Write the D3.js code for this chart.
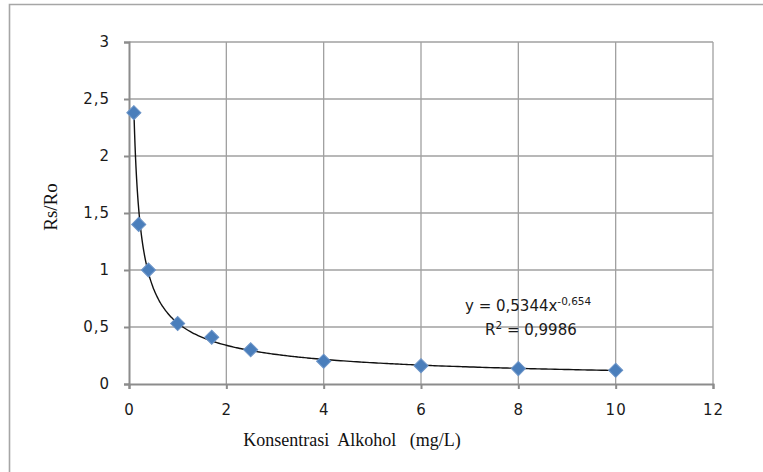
<!DOCTYPE html>
<html><head><meta charset="utf-8">
<script src="https://cdn.jsdelivr.net/npm/d3@7"></script>
<style>
html,body{margin:0;padding:0;background:#fff;}
svg{display:block;}
</style></head>
<body>
<svg id="chart" width="763" height="472"></svg>
<script>
// Data
const concentration = [0.1, 0.2, 0.4, 1.0, 1.7, 2.5, 4, 6, 8, 10];
const rsRo = [2.38, 1.40, 1.00, 0.53, 0.41, 0.30, 0.20, 0.16, 0.135, 0.12];
const xTicks = [0, 2, 4, 6, 8, 10, 12];
const yTicks = [0, 0.5, 1, 1.5, 2, 2.5, 3];
// Power trendline label from the chart: y = a * x^b
const trendA = 0.5344;
const trendB = -0.654;
const eqText = "y = 0,5344x";
const eqExp = "-0,654";
const r2Value = "0,9986";
const xTitle = "Konsentrasi  Alkohol   (mg/L)";
const yTitle = "Rs/Ro";

(function () {
const svg = d3.select("#chart");
const pLeft = 129, pRight = 713, pTop = 42, pBottom = 384;
const x = d3.scaleLinear().domain([0, 12]).range([pLeft, pRight]);
const y = d3.scaleLinear().domain([0, 3]).range([pBottom, pTop]);
const fmt = d => String(d).replace(".", ",");

// outer frame
svg.append("path").attr("d", `M9.5,480 V4.5 H770`).attr("fill", "none")
  .attr("stroke", "#a6a6a6").attr("stroke-width", 1.6);

// gridlines
const grid = svg.append("g");
grid.selectAll(".gx").data(xTicks.slice(1)).join("line")
  .attr("x1", d => x(d)).attr("x2", d => x(d)).attr("y1", pTop).attr("y2", pBottom)
  .attr("stroke", "#a0a0a0").attr("stroke-width", 1.3);
grid.selectAll(".gy").data(yTicks.slice(1)).join("line")
  .attr("x1", pLeft).attr("x2", pRight).attr("y1", d => y(d)).attr("y2", d => y(d))
  .attr("stroke", "#a0a0a0").attr("stroke-width", 1.3);

// axes
const axFont = "'DejaVu Sans', Verdana, sans-serif";
const xAxis = svg.append("g").attr("transform", `translate(0,${pBottom})`)
  .call(d3.axisBottom(x).tickValues(xTicks).tickFormat(fmt).tickSize(5).tickPadding(15));
const yAxis = svg.append("g").attr("transform", `translate(${pLeft},0)`)
  .call(d3.axisLeft(y).tickValues(yTicks).tickFormat(fmt).tickSize(5).tickPadding(14));
[xAxis, yAxis].forEach(a => {
  a.select(".domain").attr("stroke", "#8c8c8c").attr("stroke-width", 2);
  a.selectAll(".tick line").attr("stroke", "#8c8c8c").attr("stroke-width", 2);
  a.selectAll(".tick text").attr("font-family", axFont).attr("font-size", 15)
    .attr("fill", "#1a1a1a").attr("letter-spacing", "1px");
});

// trendline
const x0 = concentration[0], x1 = concentration[concentration.length - 1];
const trendPts = d3.range(0, 201).map(i => {
  const xv = x0 + (x1 - x0) * Math.pow(i / 200, 2);
  return [xv, trendA * Math.pow(xv, trendB)];
});
svg.append("path").datum(trendPts)
  .attr("d", d3.line().x(d => x(d[0])).y(d => y(d[1])).curve(d3.curveMonotoneX))
  .attr("fill", "none").attr("stroke", "#111").attr("stroke-width", 1.4);

// markers (diamonds)
const diamond = d3.symbol().type(d3.symbolSquare).size(100);
svg.selectAll(".pt").data(concentration.map((c, i) => [c, rsRo[i]])).join("path")
  .attr("d", diamond)
  .attr("transform", d => `translate(${x(d[0])},${y(d[1])}) rotate(45)`)
  .attr("fill", "#4a7ebb").attr("stroke", "#6d95c8").attr("stroke-width", 1);

// equation
const eq = svg.append("text").attr("x", 465).attr("y", 311)
  .attr("font-family", axFont).attr("font-size", 15).attr("fill", "#1a1a1a");
eq.append("tspan").text(eqText);
eq.append("tspan").attr("dy", -6).attr("font-size", 10.5).text(eqExp);
const r2 = svg.append("text").attr("x", 485).attr("y", 335)
  .attr("font-family", axFont).attr("font-size", 15).attr("fill", "#1a1a1a");
r2.append("tspan").text("R");
r2.append("tspan").attr("dy", -6).attr("font-size", 10.5).text("2");
r2.append("tspan").attr("dy", 6).text(" = " + r2Value);

// axis titles
svg.append("text").attr("x", 352).attr("y", 446).attr("text-anchor", "middle")
  .attr("font-family", "'Liberation Serif', 'Times New Roman', serif").attr("font-size", 18)
  .attr("fill", "#111").style("white-space", "pre").text(xTitle);
svg.append("text").attr("transform", "translate(57,207) rotate(-90)").attr("text-anchor", "middle")
  .attr("font-family", "'Liberation Serif', 'Times New Roman', serif").attr("font-size", 19)
  .attr("fill", "#111").text(yTitle);
})();
</script>
</body></html>
